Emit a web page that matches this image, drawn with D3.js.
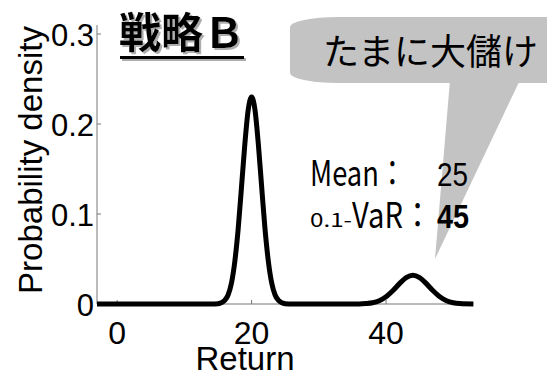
<!DOCTYPE html>
<html>
<head>
<meta charset="utf-8">
<script src="https://cdn.jsdelivr.net/npm/d3@7"></script>
<style>
  body{margin:0;background:#fff;}
  svg{display:block;}
</style>
</head>
<body>
<svg id="chart"></svg>
<script>
// density curve
const returns = [-3, 14, 15, 15.5, 16, 16.5, 17, 17.5, 18, 18.5, 19, 19.5, 20, 20.5, 21, 21.5, 22, 22.5, 23, 23.5, 24, 24.5, 25, 26,
  36, 37, 38, 39, 40, 41, 42, 43, 44, 45, 46, 47, 48, 49, 50, 51, 53];
const density = [0, 0, 0.0004, 0.0013, 0.0039, 0.010, 0.023, 0.047, 0.083, 0.130, 0.178, 0.216, 0.230, 0.216, 0.178, 0.130, 0.083, 0.047, 0.023, 0.010, 0.0039, 0.0013, 0.0004, 0,
  0.0001, 0.0005, 0.0014, 0.0037, 0.0080, 0.0147, 0.0226, 0.0293, 0.032, 0.0293, 0.0226, 0.0147, 0.0080, 0.0037, 0.0014, 0.0005, 0];
const xTicks = [0, 20, 40];
const yTicks = [0, 0.1, 0.2, 0.3];
const yTickLabels = ["0", "0.1", "0.2", "0.3"];
const title = "戦略Ｂ";
const bubbleText = "たまに大儲け";
const meanValue = "25";
const varValue = "45";

const width = 547, height = 379;
const svg = d3.select("#chart").attr("width", width).attr("height", height);

const x = d3.scaleLinear().domain([-3, 53]).range([97, 473.4]);
const y = d3.scaleLinear().domain([0, 0.31]).range([304, 25]);
const latin = "'Liberation Sans', Arial, sans-serif";

svg.append("defs").append("filter")
  .attr("id", "shadow").attr("x", "-5%").attr("y", "-5%").attr("width", "115%").attr("height", "130%")
  .append("feDropShadow")
  .attr("dx", 2).attr("dy", 2).attr("stdDeviation", 0.6)
  .attr("flood-color", "#999").attr("flood-opacity", 0.8);

// speech bubble
const bubble = svg.append("g").attr("fill", "#c3c3c3");
bubble.append("rect")
  .attr("x", 290).attr("y", 17).attr("width", 320).attr("height", 66)
  .attr("rx", 48).attr("ry", 10);
bubble.append("path")
  .attr("d", "M450,80 L520,80 L435,259 Z");
svg.append("text")
  .attr("x", 323).attr("y", 65)
  .style("font-family", "'Noto Sans CJK JP'")
  .style("font-size", "36px")
  .text(bubbleText);

// axes
const axisColor = "#777";
const gx = svg.append("g").attr("transform", `translate(0,${y(0)})`);
gx.append("line").attr("x1", x(-3)).attr("x2", x(53)).attr("stroke", axisColor);
gx.selectAll(".tick").data(xTicks).join("line")
  .attr("x1", d => x(d)).attr("x2", d => x(d)).attr("y1", 0).attr("y2", -4)
  .attr("stroke", axisColor);
gx.selectAll("text").data(xTicks).join("text")
  .attr("x", d => x(d)).attr("y", 40)
  .attr("text-anchor", "middle")
  .style("font-family", latin)
  .style("font-size", "32px")
  .text(d => d);

const gy = svg.append("g").attr("transform", `translate(${x(-3)},0)`);
gy.append("line").attr("y1", y(0)).attr("y2", y(0.31)).attr("stroke", axisColor);
gy.selectAll(".tick").data(yTicks).join("line")
  .attr("y1", d => y(d)).attr("y2", d => y(d)).attr("x1", 0).attr("x2", 4)
  .attr("stroke", axisColor);
gy.selectAll("text").data(yTicks).join("text")
  .attr("x", -3).attr("y", d => y(d) + 12)
  .attr("text-anchor", "end")
  .style("font-family", latin)
  .style("font-size", "31px")
  .text((d, i) => yTickLabels[i]);

svg.append("text")
  .attr("x", 245).attr("y", 370)
  .attr("text-anchor", "middle")
  .style("font-family", latin)
  .style("font-size", "33px")
  .text("Return");
svg.append("text")
  .attr("transform", "translate(42,160) rotate(-90)")
  .attr("text-anchor", "middle")
  .style("font-family", latin)
  .style("font-size", "33px")
  .text("Probability density");

// curve
const pts = returns.map((r, i) => [r, density[i]]);
svg.append("path")
  .datum(pts)
  .attr("fill", "none")
  .attr("stroke", "#000")
  .attr("stroke-width", 5)
  .attr("stroke-linejoin", "round")
  .attr("d", d3.line().x(d => x(d[0])).y(d => y(d[1])).curve(d3.curveMonotoneX));

// title, underlined, with a soft shadow
const titleG = svg.append("g").attr("filter", "url(#shadow)");
titleG.append("text")
  .attr("x", 119).attr("y", 48)
  .style("font-family", "'Noto Sans CJK JP'")
  .style("font-weight", 700)
  .style("font-size", "42px")
  .text(title);
titleG.append("rect")
  .attr("x", 120).attr("y", 56).attr("width", 124).attr("height", 3);

// stats
const narrow = "'Noto Sans CJK JP'";
function stat(txt, x0, yb, size, w, weight, fam) {
  svg.append("text")
    .attr("x", x0).attr("y", yb)
    .attr("textLength", w).attr("lengthAdjust", "spacingAndGlyphs")
    .style("font-family", fam || narrow)
    .style("font-size", size + "px")
    .style("font-weight", weight || 400)
    .text(txt);
}
stat("Mean：", 310, 186, 35, 96);
stat(meanValue, 437, 186, 34, 31, 400, latin);
stat("0.1-", 310, 227, 19, 42);
stat("VaR：", 352, 228, 35, 80);
stat(varValue, 437, 228, 34, 32, 700, latin);
</script>
</body>
</html>
